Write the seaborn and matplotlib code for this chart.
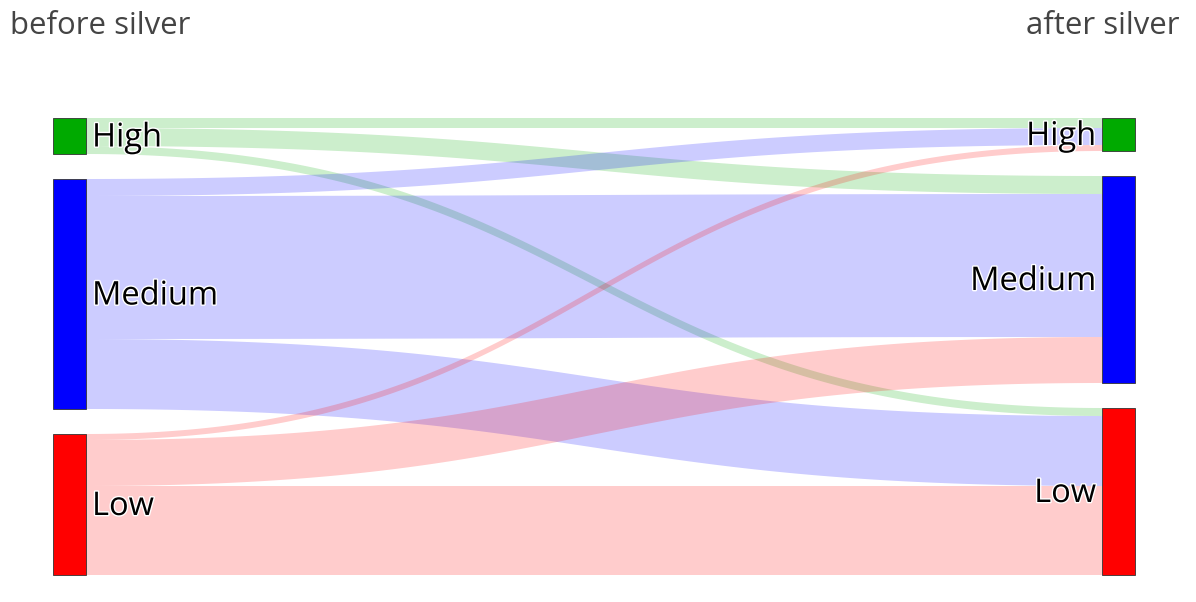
import numpy as np
import matplotlib.pyplot as plt
import matplotlib.patheffects as pe
import seaborn as sns

# categories and flows (before -> after)
levels = ['High', 'Medium', 'Low']
flow_from_high = [10, 18, 8]
flow_from_medium = [17, 143, 70]
flow_from_low = [6, 46, 89]

node_colors = ['#00aa00', '#0000ff', '#ff0000']
link_colors = [(0, 0.67, 0, 0.2), (0, 0, 1, 0.2), (1, 0, 0, 0.2)]

sns.set_theme(style='white')
plt.rcParams['font.family'] = ['Open Sans', 'DejaVu Sans']

flows = np.array([flow_from_high, flow_from_medium, flow_from_low], dtype=float)

W, H = 1196, 602
fig = plt.figure(figsize=(W / 100, H / 100), dpi=100)
ax = fig.add_axes([0, 0, 1, 1])
ax.set_xlim(0, W)
ax.set_ylim(H, 0)
ax.axis('off')

top, bottom, pad = 118, 575, 25
left_x, right_x, node_w = 53, 1102, 33

left_tot = flows.sum(axis=1)
right_tot = flows.sum(axis=0)
scale = (bottom - top - pad * (len(levels) - 1)) / max(left_tot.sum(), right_tot.sum())


def node_tops(totals):
    ys, y = [], top
    for t in totals:
        ys.append(y)
        y += t * scale + pad
    return ys


left_y = node_tops(left_tot)
right_y = node_tops(right_tot)

# links
src_off = list(left_y)
tgt_off = list(right_y)
x0, x1 = left_x + node_w, right_x
xm = (x0 + x1) / 2
t = np.linspace(0, 1, 200)


def bez(ya, yb):
    bx = (1 - t) ** 3 * x0 + 3 * (1 - t) ** 2 * t * xm + 3 * (1 - t) * t ** 2 * xm + t ** 3 * x1
    by = (1 - t) ** 3 * ya + 3 * (1 - t) ** 2 * t * ya + 3 * (1 - t) * t ** 2 * yb + t ** 3 * yb
    return bx, by


for i in range(len(levels)):
    for j in range(len(levels)):
        h = flows[i, j] * scale
        sy, ty = src_off[i], tgt_off[j]
        src_off[i] += h
        tgt_off[j] += h
        ux, uy = bez(sy, ty)
        lx, ly = bez(sy + h, ty + h)
        ax.fill(np.r_[ux, lx[::-1]], np.r_[uy, ly[::-1]],
                color=link_colors[i], lw=0, zorder=1)

# nodes
halo = [pe.withStroke(linewidth=2, foreground='white')]
for k, name in enumerate(levels):
    hl = left_tot[k] * scale
    hr = right_tot[k] * scale
    ax.add_patch(plt.Rectangle((left_x, left_y[k]), node_w, hl, facecolor=node_colors[k],
                               edgecolor='#333333', lw=0.6, zorder=2))
    ax.add_patch(plt.Rectangle((right_x, right_y[k]), node_w, hr, facecolor=node_colors[k],
                               edgecolor='#333333', lw=0.6, zorder=2))
    ax.text(left_x + node_w + 6, left_y[k] + hl / 2 + 2, name, ha='left', va='center',
            fontsize=23.5, color='black', path_effects=halo, zorder=3)
    ax.text(right_x - 6, right_y[k] + hr / 2 + 2, name, ha='right', va='center',
            fontsize=23.5, color='black', path_effects=halo, zorder=3)

ax.text(10, 26, 'before silver', ha='left', va='center', fontsize=22.4, color='#444444')
ax.text(1179, 26, 'after silver', ha='right', va='center', fontsize=22.4, color='#444444')

fig.savefig('out.png', dpi=100, facecolor='white')
